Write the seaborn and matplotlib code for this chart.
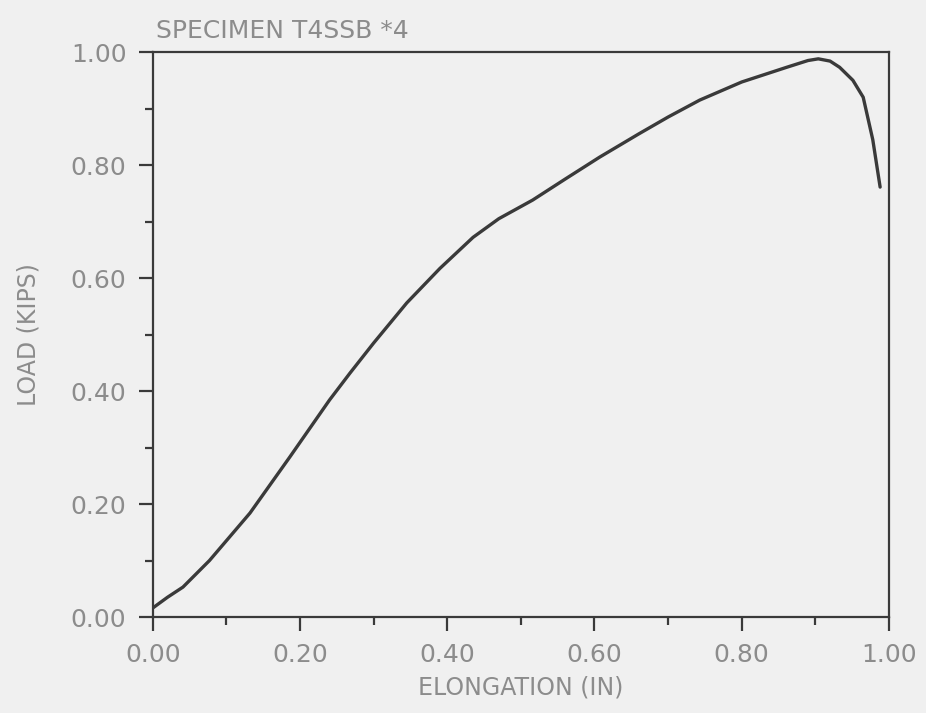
import matplotlib
matplotlib.use("Agg")
import matplotlib.pyplot as plt
from matplotlib.ticker import MultipleLocator, FormatStrFormatter
import seaborn as sns
import pandas as pd

elongation = [0.0, 0.02, 0.041, 0.077, 0.132, 0.186, 0.24, 0.268, 0.30, 0.345,
              0.39, 0.435, 0.47, 0.516, 0.56, 0.607, 0.66, 0.70, 0.743, 0.80,
              0.861, 0.89, 0.904, 0.92, 0.933, 0.951, 0.965, 0.978, 0.988]
load = [0.016, 0.035, 0.053, 0.10, 0.184, 0.283, 0.384, 0.432, 0.485, 0.556,
        0.617, 0.672, 0.705, 0.738, 0.775, 0.814, 0.855, 0.885, 0.915, 0.947,
        0.973, 0.985, 0.988, 0.984, 0.973, 0.95, 0.92, 0.845, 0.761]
title = "SPECIMEN T4SSB *4"
xlabel = "ELONGATION (IN)"
ylabel = "LOAD (KIPS)"

df = pd.DataFrame({"x": elongation, "y": load})

sns.set_theme(style="white")
plt.rcParams['font.family'] = ['DejaVu Sans']
bg = "#f0f0f0"
txt = "#8c8c8c"
ink = "#3a3a3a"

fig = plt.figure(figsize=(9.26, 7.13), dpi=100, facecolor=bg)
ax = fig.add_axes([0.165, 0.1346, 0.795, 0.7924])
ax.set_facecolor(bg)

sns.lineplot(data=df, x="x", y="y", sort=False, color=ink, linewidth=2.4, ax=ax)

ax.set_xlim(0, 1.0)
ax.set_ylim(0, 1.0)
ax.xaxis.set_major_locator(MultipleLocator(0.2))
ax.xaxis.set_minor_locator(MultipleLocator(0.1))
ax.yaxis.set_major_locator(MultipleLocator(0.2))
ax.yaxis.set_minor_locator(MultipleLocator(0.1))
ax.xaxis.set_major_formatter(FormatStrFormatter("%.2f"))
ax.yaxis.set_major_formatter(FormatStrFormatter("%.2f"))

for s in ax.spines.values():
    s.set_visible(True)
    s.set_color(ink)
    s.set_linewidth(1.6)

ax.tick_params(which="major", direction="out", length=10, width=1.6, color=ink,
               labelsize=18, labelcolor=txt, bottom=True, left=True)
ax.tick_params(axis="x", which="major", pad=9)
ax.tick_params(axis="y", which="major", pad=9)
ax.tick_params(which="minor", direction="out", length=6, width=1.6, color=ink,
               bottom=True, left=True)

ax.set_xlabel(xlabel, fontsize=17, color=txt, labelpad=6)
ax.set_ylabel(ylabel, fontsize=17, color=txt, labelpad=22)
ax.set_title(title, fontsize=18, color=txt, loc="left", pad=10, x=0.005)

fig.savefig("out.png", dpi=100, facecolor=bg)
